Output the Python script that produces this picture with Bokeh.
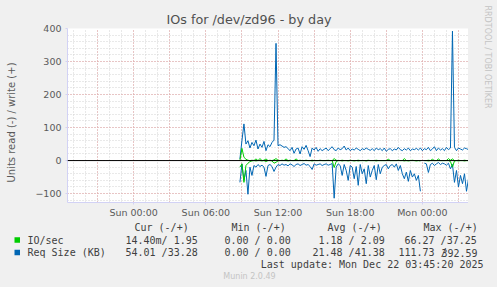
import numpy as np
from bokeh.plotting import figure
from bokeh.layouts import column, row
from bokeh.models import Range1d, FixedTicker, Span
from bokeh.core.properties import value
from bokeh.embed import file_html
from bokeh.resources import INLINE

# ---------------- data ----------------
start_hour = 8 + 50 / 60.0          # Sun 08:50, 10-minute samples
step_hours = 10 / 60.0

req_write = [5, 60, 111, 50, 60, 38, 55, 45, 62, 35, 50, 40, 58, 30, 48, 42, 55, 62, 355, 45,
             48, 44, 40, 42, 36, 30, 40, 22, 35, 38, 20, 42, 34, 46, 30, 12, 38, 32, 40, 28,
             36, 30, 34, 38, 30, 36, 42, 33, 30, 38, 33, 36, 44, 32, 38, 30, 35, 32, 38, 34,
             30, 36, 33, 38, 34, 31, 36, 30, 38, 33, 36, 30, 38, 28, 34, 36, 30, 35, 32, 40,
             33, 30, 36, 32, 38, 30, 35, 33, 37, 32, 38, 30, 36, 33, 40, 30, 35, 42, 30, 38,
             32, 36, 30, 40, 33, 38, 392, 40, 30, 38, 35, 32, 38, 36, 33]
req_read = [66, 10, 60, 30, 102, 20, 45, 15, 20, 12, 18, 14, 20, 48, 15, 12, 18, 33, 20, 12,
            15, 10, 14, 12, 16, 10, 13, 18, 12, 10, 15, 12, 9, 14, 12, 18, 27, 10, 14, 12,
            10, 15, 12, 10, 14, 12, 9, 114, 20, 10, 15, 45, 12, 30, 60, 15, 20, 55, 18, 75,
            12, 40, 25, 70, 15, 50, 30, 15, 58, 12, 40, 20, 15, 12, 25, 15, 12, 20, 10, 30,
            15, 40, 55, 35, 63, 30, 50, 40, 60, 45, 93, None, 8, 10, 36, 12, 8, 15, 10, 6,
            12, 8, 10, 14, 8, 25, 12, 66, 30, 80, 45, 70, 40, 93, 55]
io_write = [0, 37, 10, 4, 1, 0, 1, 0, 5, 0, 6, 0, 1, 5, 0, 1, 0, 2, 6, 1,
            0, 1, 0, 5, 0, 1, 0, 0, 5, 0, 1, 0, 0, 1, 0, 0, 1, 0, 0, 0,
            1, 0, 0, 0, 1, 0, 0, 6, 1, 0, 0, 1, 0, 0, 0, 1, 0, 0, 0, 1,
            0, 0, 0, 0, 1, 0, 0, 0, 1, 0, 0, 0, 0, 0, 4, 0, 0, 0, 0, 1,
            0, 0, 6, 0, 0, 0, 1, 0, 0, 0, 0, None, 0, 0, 1, 0, 4, 0, 0, 5,
            0, 0, 0, 0, 6, 1, 5, 0, 0, 1, 0, 0, 1, 0, 0]
io_read = [20, 10, 66, 15, 8, 3, 1, 0, 1, 0, 0, 1, 0, 3, 0, 0, 1, 8, 5, 1,
           0, 0, 0, 0, 1, 0, 0, 0, 0, 0, 0, 0, 0, 0, 0, 0, 1, 0, 0, 0,
           0, 0, 0, 0, 0, 0, 0, 21, 3, 0, 0, 1, 0, 0, 1, 0, 0, 1, 0, 1,
           0, 0, 0, 1, 0, 0, 0, 0, 1, 0, 0, 0, 0, 0, 0, 0, 0, 0, 0, 0,
           0, 0, 1, 0, 1, 0, 0, 0, 1, 0, 1, None, 0, 0, 1, 0, 0, 0, 0, 0,
           0, 0, 0, 0, 0, 3, 20, 1, 0, 1, 0, 0, 1, 0, 0]

x_tick_hours = [0, 6, 12, 18, 24]
x_tick_labels = ["Sun 00:00", "Sun 06:00", "Sun 12:00", "Sun 18:00", "Mon 00:00"]
y_ticks = [-100, 0, 100, 200, 300, 400]

title_text = "IOs for /dev/zd96 - by day"
y_label_text = "Units read (-) / write (+)"
legend_names = ["IO/sec", "Req Size (KB)"]
legend_colors = ["#00CC00", "#0066B3"]
legend_headers = ["Cur (-/+)", "Min (-/+)", "Avg (-/+)", "Max (-/+)"]
legend_rows = [["14.40m/ 1.95", "0.00 / 0.00", "1.18 / 2.09", "66.27 /37.25"],
               ["54.01 /33.28", "0.00 / 0.00", "21.48 /41.38", "111.73 /392.59"]]
last_update = "Last update: Mon Dec 22 03:45:20 2025"
version_text = "Munin 2.0.49"
rrd_text = "RRDTOOL / TOBI OETIKER"


def neg(vals):
    return [np.nan if v is None else -v for v in vals]


def pos(vals):
    return [np.nan if v is None else v for v in vals]


n = len(req_write)
hours = start_hour + np.arange(n) * step_hours

# ---------------- layout constants (canvas pixels) ----------------
W, H = 497, 287
STRIP_L = 22                      # left strip holding the y-axis title
FL, FR, FT, FB = 67, 468, 28, 204
MAIN_H = 220
BG = "#F0F0F0"

# ---------------- main chart ----------------
p = figure(width=FR - STRIP_L, height=MAIN_H, output_backend="svg", toolbar_location=None,
           x_range=Range1d(-5.5, -5.5 + 400 * 5 / 60.0), y_range=Range1d(-127, 400),
           min_border_left=FL - STRIP_L, min_border_right=0, min_border_top=FT,
           min_border_bottom=MAIN_H - FB)
p.frame_align = False
p.border_fill_color = BG
p.background_fill_color = "#FFFFFF"
p.outline_line_color = None

p.title.text = title_text
p.title.align = "left"
p.title.offset = 166 - FL
p.title.text_font = "DejaVu Sans"
p.title.text_font_size = "12.75px"
p.title.text_font_style = "normal"
p.title.text_color = "#505050"
p.title.standoff = 3

# grids
p.xgrid.ticker = FixedTicker(ticks=list(range(-3, 28, 3)), minor_ticks=list(range(-5, 28, 1)))
p.ygrid.ticker = FixedTicker(ticks=list(range(-100, 401, 100)), minor_ticks=list(range(-120, 401, 20)))
for g in (p.xgrid[0], p.ygrid[0]):
    g.grid_line_color = "#E6A0A0"
    g.grid_line_dash = "1 2"
    g.grid_line_width = 1
    g.minor_grid_line_color = "#D2D2D2"
    g.minor_grid_line_dash = "1 2"
    g.minor_grid_line_width = 1

# axes
xa = p.xaxis[0]
xa.ticker = FixedTicker(ticks=x_tick_hours)
xa.major_label_overrides = {h: l for h, l in zip(x_tick_hours, x_tick_labels)}
ya = p.yaxis[0]
ya.ticker = FixedTicker(ticks=y_ticks)
for ax in (xa, ya):
    ax.axis_line_color = "#D2D2F5"
    ax.major_tick_line_color = "#D2D2F5"
    ax.major_tick_out = 2
    ax.major_tick_in = 0
    ax.minor_tick_line_color = None
    ax.major_label_text_font = "DejaVu Sans"
    ax.major_label_text_font_size = "9.5px"
    ax.major_label_text_color = "#5A5A5A"
xa.major_label_standoff = 2
ya.major_label_standoff = 4

p.line(hours, pos(req_write), color=legend_colors[1], line_width=1)
p.line(hours, neg(req_read), color=legend_colors[1], line_width=1)
p.line(hours, pos(io_write), color=legend_colors[0], line_width=1)
p.line(hours, neg(io_read), color=legend_colors[0], line_width=1)

p.add_layout(Span(location=0, dimension="width", line_color="#000000", line_width=1))


def text_panel(w, h, x0, y0):
    f = figure(width=w, height=h, output_backend="svg", toolbar_location=None,
               x_range=Range1d(x0, x0 + w), y_range=Range1d(y0 + h, y0),
               min_border=0, x_axis_location=None, y_axis_location=None)
    f.frame_align = False
    f.grid.visible = False
    f.outline_line_color = None
    f.background_fill_color = BG
    f.border_fill_color = BG
    return f


# ---------------- left strip (y-axis title) ----------------
left = text_panel(STRIP_L, MAIN_H, 0, 0)
left.text(x=[11], y=[122], text=[y_label_text], angle=np.pi / 2,
          text_font=value("DejaVu Sans"), text_font_size="10px", text_color="#5A5A5A",
          text_align="center", text_baseline="middle")

# ---------------- right strip (RRDTOOL credit) ----------------
side = text_panel(W - FR, MAIN_H, FR, 0)
side.text(x=[487], y=[5], text=[rrd_text], angle=-np.pi / 2, text_font=value("DejaVu Sans"),
          text_font_size="8px", text_color="#C4C4C4", text_align="left",
          text_baseline="middle")

# ---------------- legend strip ----------------
leg = text_panel(W, H - MAIN_H, 0, MAIN_H)
mono = value("DejaVu Sans Mono")
head_x = [134, 231, 327, 423]
leg.text(x=head_x, y=[227] * 4, text=legend_headers, text_font=mono, text_font_size="10px",
         text_color="#404040", text_align="left", text_baseline="middle")

row_y = [239.5, 252]
leg.rect(x=[16.75, 16.75], y=row_y, width=5.5, height=5.5, fill_color=legend_colors,
         line_color=None)
leg.text(x=[27, 27], y=row_y, text=legend_names, text_font=mono, text_font_size="10px",
         text_color="#404040", text_align="left", text_baseline="middle")

val_x = [[125, 224, 318, 404], [125, 224, 312, 398]]
tx, ty, tt, ta = [], [], [], []
for r in range(2):
    for c in range(4):
        txt = legend_rows[r][c]
        if r == 1 and c == 3:
            a, b = txt.split("/")
            tx += [val_x[r][c], 477]
            ty += [row_y[r]] * 2
            tt += [a + "/", b]
            ta += ["left", "right"]
        else:
            tx.append(val_x[r][c])
            ty.append(row_y[r])
            tt.append(txt)
            ta.append("left")
leg.text(x=tx, y=ty, text=tt, text_align=ta, text_font=mono, text_font_size="10px",
         text_color="#404040", text_baseline="middle")

leg.text(x=[483], y=[263.5], text=[last_update], text_font=mono, text_font_size="10px",
         text_color="#404040", text_align="right", text_baseline="middle")
leg.text(x=[249], y=[276], text=[version_text], text_font=value("DejaVu Sans"),
         text_font_size="8px", text_color="#C4C4C4", text_align="center",
         text_baseline="middle")

layout = column(row(left, p, side, spacing=0), leg, spacing=0)
layout.background = BG

open("out.html", "w").write(file_html(layout, INLINE))
